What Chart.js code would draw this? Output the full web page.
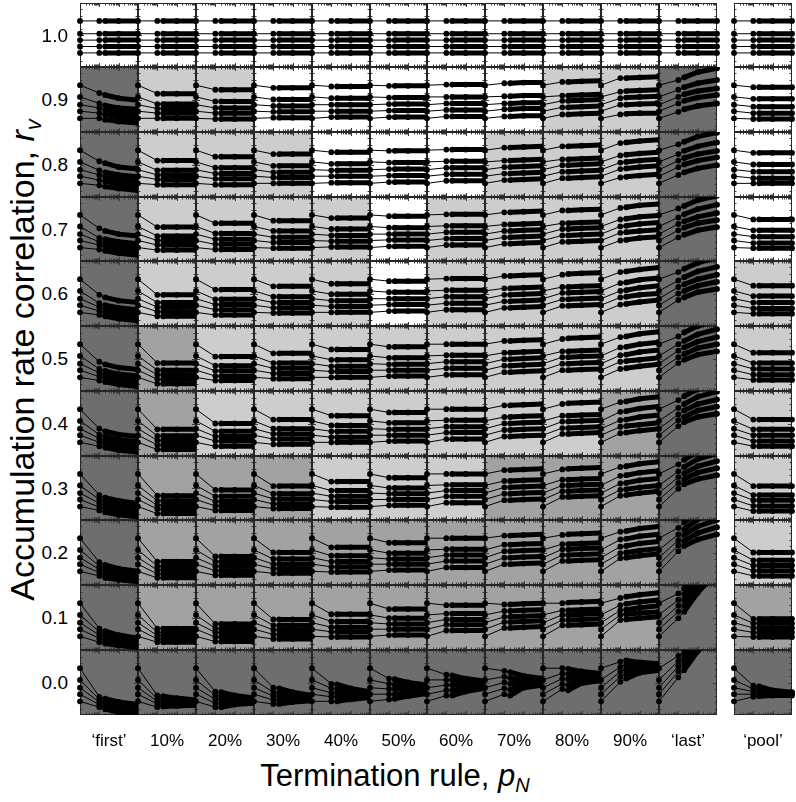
<!DOCTYPE html>
<html><head><meta charset="utf-8">
<script src="https://cdn.jsdelivr.net/npm/chart.js@4/dist/chart.umd.min.js"></script>
<style>
html,body{margin:0;padding:0;background:#fff;}
#stage{position:relative;width:796px;height:802px;overflow:hidden;font-family:"Liberation Sans",Arial,Helvetica,sans-serif;color:#000;}
#stage canvas{position:absolute;}
.yl{position:absolute;font-size:19px;line-height:19px;text-align:right;width:40px;white-space:nowrap;}
.cl{position:absolute;font-size:17px;line-height:17px;text-align:center;width:80px;white-space:nowrap;}
.title{position:absolute;font-size:31px;line-height:31px;white-space:nowrap;}
.title sub{font-size:20px;vertical-align:-6px;line-height:0;}
#ytitle{font-size:34px;line-height:34px;}
#ytitle sub{font-size:22px;vertical-align:-7px;}
</style></head><body><div id="stage"></div>
<script>
// ---------------- data ----------------
const categories = ['\u2018first\u2019','10%','20%','30%','40%','50%','60%','70%','80%','90%','\u2018last\u2019','\u2018pool\u2019'];
const rvLabels = ['1.0','0.9','0.8','0.7','0.6','0.5','0.4','0.3','0.2','0.1','0.0'];
const rvValues = [1.0,0.9,0.8,0.7,0.6,0.5,0.4,0.3,0.2,0.1,0.0];
const sampleSizes = [1,10,20,100,1000];
// value of each of the 5 series at N = 1 (per row)
const startValues = [
 [1.022,1.002,.992,.982,.972],[.922,.904,.892,.882,.871],[.822,.804,.792,.782,.771],
 [.722,.704,.692,.682,.671],[.622,.604,.592,.582,.571],[.522,.504,.492,.482,.471],
 [.422,.404,.392,.382,.371],[.322,.304,.292,.282,.271],[.222,.204,.192,.182,.171],
 [.122,.104,.092,.082,.071],[.022,.004,-.008,-.018,-.029]];
// per cell: 5 series; a number = level read for every N >= 10, an array = values at N = 10, 20, 100, 1000
const topRow = [1.022,1.002,.992,.982,.972];
const colFirst = [topRow,
 [[.910,.907,.902,.899],[.894,.891,.887,.885],[.887,.884,.880,.878],[.879,.877,.873,.871],[.871,.869,.866,.864]],
 [[.805,.802,.796,.793],[.791,.788,.784,.781],[.784,.781,.777,.774],[.776,.774,.770,.767],[.768,.766,.763,.760]],
 [[.701,.697,.692,.689],[.686,.684,.680,.677],[.680,.678,.674,.671],[.675,.673,.669,.666],[.668,.666,.662,.659]],
 [[.598,.594,.589,.586],[.585,.582,.578,.575],[.579,.576,.572,.569],[.573,.571,.567,.564],[.567,.565,.561,.558]],
 [[.495,.491,.486,.483],[.484,.481,.476,.473],[.478,.475,.471,.468],[.472,.470,.466,.463],[.466,.464,.460,.457]],
 [[.392,.388,.383,.380],[.383,.380,.375,.372],[.377,.374,.370,.367],[.371,.369,.365,.362],[.365,.363,.359,.356]],
 [[.289,.285,.280,.276],[.282,.279,.274,.270],[.276,.273,.269,.265],[.270,.268,.264,.260],[.265,.262,.258,.255]],
 [[.185,.181,.175,.171],[.179,.176,.171,.167],[.174,.171,.167,.163],[.169,.166,.162,.159],[.164,.161,.158,.155]],
 [[.083,.079,.073,.068],[.078,.074,.069,.064],[.073,.070,.065,.060],[.068,.065,.061,.057],[.062,.060,.057,.054]],
 [[-.022,-.025,-.030,-.034],[-.026,-.029,-.034,-.038],[-.030,-.033,-.038,-.042],[-.034,-.037,-.042,-.046],[-.038,-.041,-.046,-.050]]];
const col10 = [topRow,
 [.909,.893,.886,.879,.871],[.806,.791,.784,.777,.769],[.703,.689,.682,.675,.667],
 [.598,.586,.579,.572,.565],[.493,.482,.475,.468,.461],[.391,.381,.374,.367,.360],
 [.288,.280,.273,.267,.260],[.186,.179,.173,.167,.161],[.083,.077,.072,.067,.062],
 [[-.020,-.021,-.024,-.027],[-.025,-.025,-.027,-.029],[-.029,-.029,-.030,-.031],[-.033,-.033,-.033,-.033],[-.038,-.037,-.036,-.035]]];
const col20 = [topRow,
 [.915,.897,.887,.879,.870],[.812,.795,.786,.778,.769],[.709,.693,.684,.676,.668],
 [.606,.591,.583,.575,.567],[.503,.489,.481,.473,.466],[.400,.388,.380,.373,.365],
 [.297,.287,.279,.272,.265],[.194,.186,.179,.172,.165],[.090,.083,.077,.070,.063],
 [[-.014,-.015,-.020,-.024],[-.020,-.021,-.024,-.026],[-.026,-.026,-.027,-.028],[-.032,-.032,-.030,-.030],[-.038,-.038,-.034,-.032]]];
const col30 = [topRow,
 [.918,.900,.890,.881,.872],[.816,.798,.788,.780,.771],[.713,.697,.687,.679,.670],
 [.611,.595,.586,.578,.570],[.508,.493,.485,.477,.469],[.406,.392,.384,.376,.368],
 [.303,.291,.283,.275,.268],[.200,.190,.182,.175,.168],[.097,.088,.081,.074,.067],
 [[-.008,-.009,-.015,-.020],[-.015,-.016,-.019,-.022],[-.021,-.021,-.023,-.024],[-.027,-.027,-.026,-.026],[-.033,-.033,-.030,-.028]]];
const col40 = [topRow,
 [.920,.902,.892,.882,.873],[.819,.801,.791,.782,.772],[.717,.700,.690,.681,.672],
 [.615,.599,.589,.580,.571],[.514,.498,.488,.480,.471],[.412,.397,.388,.379,.371],
 [.310,.296,.287,.279,.270],[.208,.195,.186,.178,.170],[.105,.094,.085,.078,.070],
 [[-.002,-.003,-.009,-.014],[-.009,-.010,-.014,-.017],[-.016,-.016,-.018,-.019],[-.022,-.022,-.022,-.021],[-.029,-.029,-.026,-.023]]];
const col50 = [topRow,
 [.921,.903,.893,.883,.873],[.821,.803,.793,.783,.773],[.720,.702,.692,.683,.673],
 [.619,.602,.592,.583,.573],[.518,.501,.491,.482,.473],[.417,.401,.391,.382,.373],
 [.316,.300,.291,.282,.273],[.215,.199,.190,.182,.173],[.113,.099,.090,.082,.073],
 [[.006,.005,0,-.004],[-.002,-.003,-.006,-.008],[-.010,-.010,-.010,-.011],[-.018,-.018,-.016,-.014],[-.026,-.025,-.021,-.017]]];
const col60 = [topRow,
 [.923,.904,.894,.884,.874],[.823,.805,.795,.785,.775],[.723,.705,.695,.685,.675],
 [.623,.605,.595,.585,.575],[.522,.505,.495,.485,.475],[.422,.405,.395,.386,.376],
 [.322,.305,.296,.287,.277],[.222,.205,.196,.187,.177],[.119,.106,.097,.089,.080],
 [[.012,.011,.006,.002],[.004,.004,.001,-.001],[-.004,-.004,-.003,-.003],[-.012,-.012,-.009,-.006],[-.020,-.020,-.014,-.009]]];
const col70 = [topRow,
 [[.925,.925,.926,.926],[.905,.905,.906,.906],[.894,.894,.895,.895],[.885,.885,.886,.886],[.874,.874,.875,.875]],
 [[.826,.826,.827,.828],[.806,.806,.807,.808],[.796,.796,.797,.798],[.786,.786,.787,.788],[.776,.776,.777,.778]],
 [[.726,.726,.727,.728],[.707,.707,.708,.709],[.697,.697,.698,.699],[.687,.687,.688,.689],[.677,.677,.678,.679]],
 [[.627,.627,.628,.629],[.608,.608,.609,.610],[.598,.598,.599,.600],[.588,.588,.589,.590],[.578,.578,.579,.580]],
 [[.527,.527,.528,.529],[.509,.509,.510,.511],[.499,.499,.500,.501],[.489,.489,.490,.491],[.479,.479,.480,.481]],
 [[.428,.428,.429,.430],[.410,.410,.411,.412],[.400,.400,.401,.402],[.390,.390,.391,.392],[.380,.380,.381,.382]],
 [[.328,.328,.329,.330],[.311,.311,.312,.313],[.301,.301,.302,.303],[.291,.291,.292,.293],[.281,.281,.282,.283]],
 [[.226,.226,.227,.228],[.212,.212,.213,.214],[.202,.202,.203,.204],[.192,.192,.193,.194],[.182,.182,.183,.184]],
 [[.120,.120,.121,.122],[.110,.110,.111,.112],[.101,.101,.102,.103],[.093,.093,.094,.095],[.084,.084,.085,.086]],
 [[.018,.016,.010,.006],[.009,.007,.004,.002],[0,-.002,0,0],[-.009,-.011,-.004,-.002],[-.018,-.020,-.008,-.004]]];
const col80 = [topRow,
 [[.927,.927,.928,.929],[.906,.906,.907,.908],[.898,.898,.899,.900],[.888,.888,.889,.890],[.877,.877,.878,.879]],
 [[.828,.828,.829,.830],[.808,.808,.809,.810],[.799,.799,.800,.801],[.789,.789,.790,.791],[.779,.779,.780,.781]],
 [[.729,.729,.730,.731],[.709,.709,.710,.711],[.700,.700,.701,.702],[.690,.690,.691,.692],[.680,.680,.681,.682]],
 [[.629,.630,.631,.632],[.610,.610,.611,.612],[.601,.601,.602,.603],[.591,.591,.592,.593],[.581,.581,.582,.583]],
 [[.530,.531,.532,.533],[.511,.511,.512,.513],[.502,.502,.503,.504],[.492,.492,.493,.494],[.482,.482,.483,.484]],
 [[.430,.431,.432,.433],[.412,.412,.413,.414],[.403,.403,.404,.405],[.393,.393,.394,.395],[.384,.384,.385,.386]],
 [[.329,.330,.331,.332],[.313,.313,.314,.315],[.304,.304,.305,.306],[.295,.295,.296,.297],[.286,.286,.287,.288]],
 [[.227,.228,.229,.230],[.213,.213,.214,.215],[.205,.205,.206,.207],[.196,.196,.197,.198],[.187,.187,.188,.189]],
 [[.122,.123,.124,.125],[.111,.111,.112,.113],[.104,.104,.105,.106],[.096,.096,.097,.098],[.088,.088,.089,.090]],
 [[.022,.021,.017,.014],[.014,.013,.011,.010],[.006,.005,.007,.007],[-.002,-.004,.003,.005],[-.010,-.012,-.001,.003]]];
const col90 = [topRow,
 [[.933,.933,.934,.935],[.912,.913,.914,.915],[.902,.903,.904,.905],[.892,.892,.893,.894],[.877,.878,.879,.879]],
 [[.833,.834,.836,.838],[.814,.815,.817,.819],[.803,.804,.806,.808],[.793,.794,.796,.798],[.780,.781,.783,.785]],
 [[.733,.734,.737,.739],[.715,.716,.719,.721],[.704,.705,.708,.710],[.694,.695,.697,.699],[.682,.683,.686,.688]],
 [[.633,.634,.637,.640],[.616,.617,.621,.624],[.604,.605,.609,.612],[.594,.595,.598,.600],[.583,.584,.587,.590]],
 [[.533,.534,.538,.541],[.517,.518,.522,.525],[.505,.506,.510,.513],[.495,.496,.498,.501],[.484,.485,.488,.491]],
 [[.433,.434,.438,.441],[.418,.419,.423,.426],[.405,.406,.410,.413],[.395,.396,.398,.401],[.385,.386,.389,.392]],
 [[.333,.334,.338,.341],[.319,.320,.324,.327],[.307,.308,.312,.315],[.297,.298,.301,.304],[.288,.289,.292,.295]],
 [[.232,.233,.237,.240],[.220,.221,.225,.228],[.209,.210,.214,.217],[.199,.200,.203,.206],[.191,.192,.195,.198]],
 [[.130,.132,.135,.138],[.119,.121,.124,.127],[.111,.112,.115,.118],[.104,.105,.107,.109],[.096,.097,.099,.101]],
 [[.032,.034,.031,.029],[.024,.027,.028,.027],[.017,.020,.024,.025],[.009,.013,.020,.022],[.001,.006,.015,.019]]];
const colLast = [topRow,
 [[.930,.934,.942,.948],[.915,.919,.925,.930],[.904,.908,.913,.917],[.894,.898,.903,.907],[.881,.885,.890,.894]],
 [[.831,.835,.843,.849],[.816,.821,.828,.834],[.806,.810,.816,.821],[.796,.800,.806,.811],[.784,.788,.794,.799]],
 [[.732,.736,.745,.752],[.718,.723,.731,.738],[.708,.712,.719,.725],[.698,.702,.709,.714],[.687,.691,.698,.703]],
 [[.633,.638,.647,.655],[.620,.625,.634,.641],[.610,.614,.622,.629],[.600,.604,.612,.618],[.590,.594,.602,.607]],
 [[.534,.540,.550,.558],[.522,.527,.537,.545],[.512,.517,.526,.533],[.502,.507,.516,.522],[.493,.498,.506,.511]],
 [[.436,.442,.453,.462],[.424,.430,.441,.449],[.414,.420,.430,.437],[.405,.410,.420,.426],[.396,.402,.410,.415]],
 [[.337,.344,.357,.366],[.326,.333,.345,.354],[.317,.323,.334,.342],[.308,.314,.324,.331],[.299,.306,.314,.320]],
 [[.238,.246,.262,.274],[.228,.236,.251,.262],[.219,.227,.240,.250],[.211,.218,.230,.239],[.202,.210,.220,.228]],
 [[.137,.145,.175,.210],[.127,.136,.165,.200],[.118,.127,.155,.190],[.109,.118,.145,.180],[.099,.109,.138,.170]],
 [[.041,.050,.080,.110],[.033,.043,.072,.100],[.025,.035,.064,.092],[.017,.027,.056,.084],[.008,.019,.048,.076]]];
const colPool = [topRow,
 [.919,.901,.889,.879,.870],[.818,.800,.789,.779,.771],[.715,.698,.688,.678,.670],
 [.612,.596,.586,.577,.569],[.509,.493,.484,.475,.467],[.406,.391,.382,.373,.365],
 [.303,.289,.281,.272,.264],[.200,.188,.180,.172,.164],[.098,.091,.084,.077,.070],
 [[-.005,-.006,-.012,-.015],[-.010,-.010,-.014,-.016],[-.014,-.013,-.016,-.017],[-.018,-.017,-.018,-.018],[-.022,-.021,-.020,-.020]]];
// background class of each cell (0 white, 1 light, 2 mid, 3 dark), rows 1.0 -> 0.0
const shadeLevels = [
 [0,0,0,0,0,0,0,0,0,0,0,0],
 [3,1,1,0,0,0,0,0,1,1,3,0],
 [3,1,1,1,0,0,0,1,1,1,3,0],
 [3,1,1,1,1,0,1,1,1,1,3,0],
 [3,1,1,1,1,0,1,1,1,1,3,1],
 [3,2,1,1,1,1,1,1,1,1,3,1],
 [3,2,1,1,1,1,1,1,1,2,3,1],
 [3,2,2,2,1,1,1,2,2,2,3,1],
 [3,2,2,2,2,2,2,2,2,2,3,1],
 [3,2,2,2,2,2,2,2,2,2,3,2],
 [3,3,3,3,3,3,3,3,3,3,3,3]];
const shadeColors = ['#ffffff','#cdcdcd','#a2a2a2','#6e6e6e'];
const columns = [colFirst,col10,col20,col30,col40,col50,col60,col70,col80,col90,colLast,colPool];

// ---------------- layout ----------------
const stage = document.getElementById('stage');
const PAD = 4;
function cellBox(c, r) {
  let left, right;
  if (c < 11) { left = Math.round(80 + c * 57.9); right = Math.round(80 + (c + 1) * 57.9); }
  else { left = 734; right = 792; }
  const top = Math.round(2.5 + r * 64.73), bottom = Math.round(2.5 + (r + 1) * 64.73);
  return {left, right, top, bottom};
}
function framePlugin(bg, v) {
  return {
    id: 'cellFrame',
    beforeDatasetsDraw(chart) {
      const {ctx, chartArea: a, scales} = chart;
      ctx.save();
      ctx.fillStyle = bg;
      ctx.fillRect(a.left, a.top, a.right - a.left, a.bottom - a.top);
      ctx.strokeStyle = '#3c3c3c';
      ctx.lineWidth = 1;
      ctx.beginPath();
      [1, 10, 100].forEach(dec => {
        for (let m = 1; m <= 9; m++) {
          const val = dec * m;
          if (val <= 1 || val >= 1000) continue;
          const x = Math.round(scales.x.getPixelForValue(val)) + 0.5;
          const len = m === 1 ? 4 : 2.5;
          ctx.moveTo(x, a.top); ctx.lineTo(x, a.top + len);
          ctx.moveTo(x, a.bottom); ctx.lineTo(x, a.bottom - len);
        }
      });
      for (let i = -4; i <= 4; i++) {
        const y = Math.round(scales.y.getPixelForValue(v + i * 0.01)) + 0.5;
        const len = i === 0 ? 4 : 2.5;
        ctx.moveTo(a.left, y); ctx.lineTo(a.left + len, y);
        ctx.moveTo(a.right, y); ctx.lineTo(a.right - len, y);
      }
      ctx.stroke();
      ctx.strokeStyle = '#262626';
      ctx.strokeRect(a.left + 0.5, a.top + 0.5, a.right - a.left - 1, a.bottom - a.top - 1);
      ctx.restore();
    }
  };
}

for (let r = 0; r < rvValues.length; r++) {
  for (let c = 0; c < columns.length; c++) {
    const box = cellBox(c, r);
    const w = box.right - box.left + 2 * PAD, h = box.bottom - box.top;
    const cv = document.createElement('canvas');
    cv.width = w; cv.height = h;
    cv.style.left = (box.left - PAD) + 'px'; cv.style.top = box.top + 'px';
    cv.style.width = w + 'px'; cv.style.height = h + 'px';
    stage.appendChild(cv);
    const v = rvValues[r];
    const cell = columns[c][r];
    const datasets = cell.map((ser, s) => {
      const cluster = Array.isArray(ser) ? ser : [ser, ser, ser, ser];
      const ys = [startValues[r][s]].concat(cluster);
      return {
        data: sampleSizes.map((n, i) => ({x: n, y: ys[i]})),
        borderColor: '#000', backgroundColor: '#000',
        borderWidth: 1, pointRadius: 2.9, pointBorderWidth: 0, pointBackgroundColor: '#000',
        segment: { borderWidth: ctx => (ctx.p0DataIndex >= 2 ? 5 : 1) },
        clip: {left: false, right: false, top: 0, bottom: 0}
      };
    });
    new Chart(cv, {
      type: 'line',
      data: {datasets},
      options: {
        animation: false, responsive: false, maintainAspectRatio: false, events: [],
        layout: {autoPadding: false, padding: {left: PAD, right: PAD, top: 0, bottom: 0}},
        scales: {
          x: {type: 'logarithmic', min: 1, max: 1000, display: false},
          y: {type: 'linear', min: v - 0.05, max: v + 0.05, display: false}
        },
        plugins: {legend: {display: false}, tooltip: {enabled: false}}
      },
      plugins: [framePlugin(shadeColors[shadeLevels[r][c]], v)]
    });
  }
}

// ---------------- text ----------------
rvLabels.forEach((lab, r) => {
  const b = cellBox(0, r);
  const d = document.createElement('div');
  d.className = 'yl'; d.textContent = lab;
  d.style.left = '28px'; d.style.top = ((b.top + b.bottom) / 2 - 9.5) + 'px';
  stage.appendChild(d);
});
categories.forEach((lab, c) => {
  const b = cellBox(c, 10);
  const d = document.createElement('div');
  d.className = 'cl'; d.textContent = lab;
  d.style.left = ((b.left + b.right) / 2 - 40) + 'px'; d.style.top = '732px';
  stage.appendChild(d);
});
const xt = document.createElement('div');
xt.className = 'title';
xt.innerHTML = 'Termination rule, <i>p</i><sub><i>N</i></sub>';
xt.style.left = '395px'; xt.style.top = '760px'; xt.style.transform = 'translateX(-50%)';
stage.appendChild(xt);
const yt = document.createElement('div');
yt.className = 'title'; yt.id = 'ytitle';
yt.innerHTML = 'Accumulation rate correlation, <i>r</i><sub><i>v</i></sub>';
yt.style.left = '22px'; yt.style.top = '360px'; yt.style.transform = 'translate(-50%,-50%) rotate(-90deg)';
stage.appendChild(yt);
</script></body></html>
